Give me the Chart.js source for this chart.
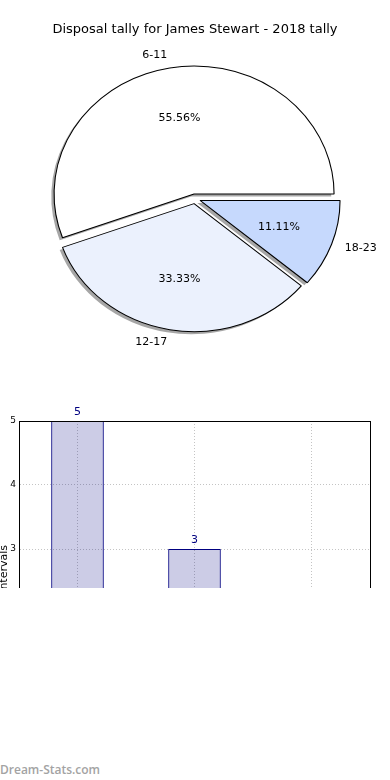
<!DOCTYPE html>
<html>
<head>
<meta charset="utf-8">
<script src="https://cdn.jsdelivr.net/npm/chart.js@4.4.1/dist/chart.umd.min.js"></script>
<style>
    html, body { margin: 0; padding: 0; background: #fff; }
    body { width: 390px; height: 780px; position: relative; overflow: hidden; }
    #pie-chart { position: absolute; left: 0; top: 0; }
    #bar-wrap { position: absolute; left: 0; top: 400px; width: 390px; height: 188px; overflow: hidden; }
    #watermark { position: absolute; left: 0; top: 761px; font: 600 12px 'Open Sans', sans-serif; color: #a3a3a3; }
</style>
</head>
<body>
<canvas id="pie-chart" width="390" height="400"></canvas>
<div id="bar-wrap"><canvas id="bar-chart" width="390" height="380"></canvas></div>
<div id="watermark">Dream-Stats.com</div>

<script>
const titleText = 'Disposal tally for James Stewart - 2018 tally';
const categories = ['6-11', '12-17', '18-23'];
const tally = [5, 3, 1];
const sliceColors = ['#ffffff', '#ebf1fd', '#c6d9fd'];
const yLabel = 'intervals';

Chart.defaults.font.family = "'DejaVu Sans', sans-serif";
Chart.defaults.color = '#000';

// pie geometry (matplotlib look: stretched ellipse, exploded, shadow)
const R = 128;
const SX = 140 / 128;
const EXPL = 4.9;
const SHADOW = 0.02 * R;

const total = tally.reduce((a, b) => a + b, 0);

// =========================
// PIE
// =========================
// chart.js' own offset also grows the radius, so the slices are pushed out here instead
const pieStretch = {
    id: 'pieStretch',
    beforeDatasetsDraw(chart) {
        const ctx = chart.ctx;
        const arcs = chart.getDatasetMeta(0).data;
        const cx = arcs[0].x, cy = arcs[0].y;
        ctx.save();
        ctx.translate(cx, cy);
        ctx.scale(SX, 1);
        ctx.translate(-cx, -cy);

        const pass = shadow => arcs.forEach(arc => {
            const mid = (arc.startAngle + arc.endAngle) / 2;
            const o = arc.options;
            ctx.save();
            ctx.translate(Math.cos(mid) * EXPL, Math.sin(mid) * EXPL);
            if (shadow) {
                ctx.translate(-SHADOW, SHADOW);
                arc.options = Object.assign({}, o, { backgroundColor: 'rgba(77,77,77,0.5)', borderWidth: 0 });
            }
            arc.draw(ctx);
            arc.options = o;
            ctx.restore();
        });
        pass(true);
        pass(false);
        ctx.restore();
        return false;
    },
    afterDraw(chart) {
        const ctx = chart.ctx;
        const arcs = chart.getDatasetMeta(0).data;
        const vals = chart.data.datasets[0].data;
        ctx.save();
        ctx.fillStyle = '#000';
        ctx.font = "11px 'DejaVu Sans'";
        ctx.textBaseline = 'middle';
        arcs.forEach((arc, i) => {
            const mid = (arc.startAngle + arc.endAngle) / 2;
            const c = Math.cos(mid), s = Math.sin(mid);
            const at = d => [arc.x + SX * c * (EXPL + d), arc.y + s * (EXPL + d)];

            const [lx, ly] = at(1.1 * R);
            ctx.textAlign = Math.abs(c) < 1e-6 ? 'center' : (c > 0 ? 'left' : 'right');
            ctx.fillText(chart.data.labels[i], lx, ly);

            const [px, py] = at(0.6 * R);
            ctx.textAlign = 'center';
            ctx.fillText((vals[i] / total * 100).toFixed(2) + '%', px, py);
        });
        ctx.restore();
    }
};

// chart.js runs clockwise, the original runs counter-clockwise from 3 o'clock
const pieEl = document.getElementById('pie-chart');
new Chart(pieEl, {
    type: 'pie',
    data: {
        labels: categories.slice().reverse(),
        datasets: [{
            data: tally.slice().reverse(),
            backgroundColor: sliceColors.slice().reverse(),
            borderColor: '#000',
            borderWidth: 1,
        }]
    },
    options: {
        responsive: false,
        animation: false,
        rotation: 90,
        radius: R,
        layout: { padding: { right: 0, bottom: 40 } },
        plugins: {
            legend: { display: false },
            tooltip: { enabled: false },
            title: {
                display: true,
                text: titleText,
                color: '#000',
                font: { size: 13, weight: 'normal' },
                padding: { top: 22, bottom: 0 },
            }
        }
    },
    plugins: [pieStretch]
});

// =========================
// BAR (cut off by the wrapper)
// =========================
const barExtras = {
    id: 'barExtras',
    afterDatasetsDraw(chart) {
        const ctx = chart.ctx;
        const bars = chart.getDatasetMeta(0).data;
        const vals = chart.data.datasets[0].data;
        ctx.save();
        ctx.fillStyle = 'navy';
        ctx.font = "11px 'DejaVu Sans'";
        ctx.textAlign = 'center';
        ctx.textBaseline = 'bottom';
        bars.forEach((b, i) => ctx.fillText(String(vals[i]), b.x, b.y - 3));
        ctx.restore();
    },
    afterDraw(chart) {
        const { left, top, right, bottom } = chart.chartArea;
        const ctx = chart.ctx;
        ctx.save();
        ctx.strokeStyle = '#000';
        ctx.lineWidth = 1;
        ctx.strokeRect(Math.round(left) + 0.5, Math.round(top) + 0.5,
            Math.round(right - left), Math.round(bottom - top));

        // y label, its end sits where the original's does
        ctx.translate(7, top + 124);
        ctx.rotate(-Math.PI / 2);
        ctx.font = "11px 'DejaVu Sans'";
        ctx.fillStyle = '#000';
        ctx.textAlign = 'right';
        ctx.textBaseline = 'alphabetic';
        ctx.fillText(yLabel, 0, 0);
        ctx.restore();
    }
};

const barEl = document.getElementById('bar-chart');
new Chart(barEl, {
    type: 'bar',
    data: {
        labels: categories,
        datasets: [{
            data: tally,
            backgroundColor: 'rgba(0,0,128,0.2)',
            borderColor: 'navy',
            borderWidth: 1,
            barPercentage: 0.45,
            categoryPercentage: 1,
        }]
    },
    options: {
        responsive: false,
        animation: false,
        layout: { padding: { top: 21, right: 20, left: 0, bottom: 0 } },
        plugins: { legend: { display: false }, tooltip: { enabled: false } },
        scales: {
            x: {
                grid: { offset: false, color: '#c4c4c4', drawTicks: false },
                border: { color: '#000', dash: [1, 2] },
                ticks: { font: { size: 9 } },
                afterFit: s => { s.height = 39; }
            },
            y: {
                min: 0,
                max: 5,
                ticks: { stepSize: 1, padding: 3, font: { size: 9 } },
                grid: { color: '#c4c4c4', drawTicks: false },
                border: { color: '#000', dash: [1, 2] },
                afterFit: s => { s.width = 19; }
            }
        }
    },
    plugins: [barExtras]
});
</script>
</body>
</html>
